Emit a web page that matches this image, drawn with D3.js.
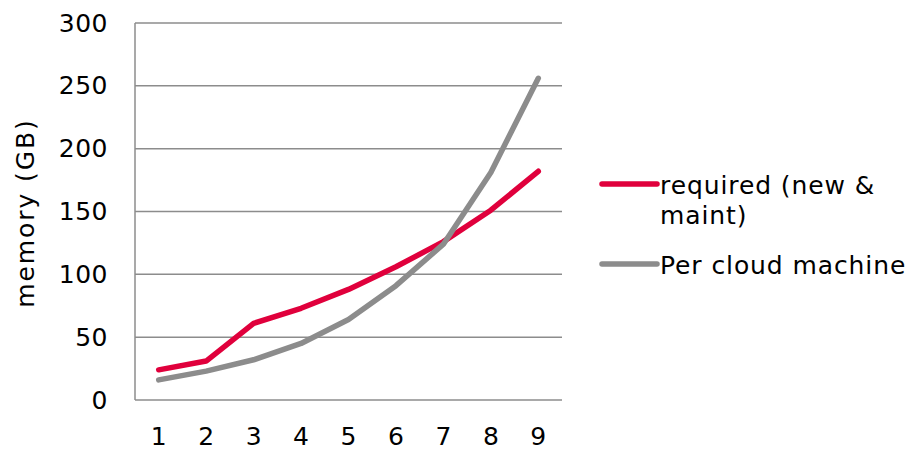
<!DOCTYPE html>
<html>
<head>
<meta charset="utf-8">
<script src="https://cdn.jsdelivr.net/npm/d3@7"></script>
<style>
  body { margin: 0; background: #fff; }
  text { font-family: "DejaVu Sans", Verdana, sans-serif; fill: #000; }
</style>
</head>
<body>
<div class="canvas"></div>
<script>
// data
const categories = ["1", "2", "3", "4", "5", "6", "7", "8", "9"];
const required = [24, 31, 61, 73, 88, 106, 126, 151, 182];
const perCloud = [16, 23, 32, 45, 64, 91, 124, 181, 256];
const yTicks = [0, 50, 100, 150, 200, 250, 300];
const seriesNames = ["required (new &\nmaint)", "Per cloud machine"];
const seriesColors = ["#e0003c", "#8c8c8c"];

const width = 911;
const height = 452;
const margin = { top: 23, right: 349, bottom: 52, left: 135 };
const graphWidth = width - margin.left - margin.right;
const graphHeight = height - margin.top - margin.bottom;

const svg = d3
  .select(".canvas")
  .append("svg")
  .attr("width", width)
  .attr("height", height);

const graph = svg
  .append("g")
  .attr("transform", `translate(${margin.left}, ${margin.top})`);

// scales
const x = d3.scaleBand().domain(categories).range([0, graphWidth]);
const y = d3.scaleLinear().domain([0, 300]).range([graphHeight, 0]);

// gridlines
graph
  .append("g")
  .selectAll("line")
  .data(yTicks)
  .enter()
  .append("line")
  .attr("x1", 0)
  .attr("x2", graphWidth)
  .attr("y1", (d) => y(d))
  .attr("y2", (d) => y(d))
  .attr("stroke", "#8c8c8c")
  .attr("stroke-width", 1.5);

// y axis line
graph
  .append("line")
  .attr("x1", 0)
  .attr("x2", 0)
  .attr("y1", 0)
  .attr("y2", graphHeight)
  .attr("stroke", "#8c8c8c")
  .attr("stroke-width", 1.5);

// y axis labels
const yAxis = d3.axisLeft(y).tickValues(yTicks).tickSize(0).tickPadding(27);
const yAxisGroup = graph.append("g").call(yAxis);
yAxisGroup.select(".domain").remove();
yAxisGroup
  .selectAll("text")
  .style("font-size", "25px")
  .style("letter-spacing", "0.5px")
  .style("font-family", "'DejaVu Sans', Verdana, sans-serif")
  .attr("fill", "#000");

// x axis labels
const xAxis = d3.axisBottom(x).tickSize(0).tickPadding(27);
const xAxisGroup = graph
  .append("g")
  .attr("transform", `translate(0, ${graphHeight})`)
  .call(xAxis);
xAxisGroup.select(".domain").remove();
xAxisGroup
  .selectAll("text")
  .style("font-size", "25px")
  .style("font-family", "'DejaVu Sans', Verdana, sans-serif")
  .attr("fill", "#000");

// y axis title
svg
  .append("text")
  .attr("transform", "translate(34, 213) rotate(-90)")
  .attr("text-anchor", "middle")
  .style("font-size", "25px")
  .style("letter-spacing", "1.9px")
  .text("memory (GB)");

// lines
const line = d3
  .line()
  .x((d, i) => x(categories[i]) + x.bandwidth() / 2)
  .y((d) => y(d));

[required, perCloud].forEach((series, i) => {
  graph
    .append("path")
    .datum(series)
    .attr("fill", "none")
    .attr("stroke", seriesColors[i])
    .attr("stroke-width", 5.5)
    .attr("stroke-linecap", "round")
    .attr("stroke-linejoin", "round")
    .attr("d", line);
});

// legend
const legendY = [184, 264];
seriesNames.forEach((name, i) => {
  const g = svg.append("g").attr("transform", `translate(602, ${legendY[i]})`);
  g.append("line")
    .attr("x1", 0)
    .attr("x2", 55)
    .attr("stroke", seriesColors[i])
    .attr("stroke-width", 5.5)
    .attr("stroke-linecap", "round");
  const t = g
    .append("text")
    .attr("x", 58)
    .attr("y", 10)
    .style("font-size", "25px")
    .style("letter-spacing", "0.9px");
  name.split("\n").forEach((part, j) => {
    t.append("tspan").attr("x", 58).attr("dy", j === 0 ? 0 : 30).text(part);
  });
});
</script>
</body>
</html>
